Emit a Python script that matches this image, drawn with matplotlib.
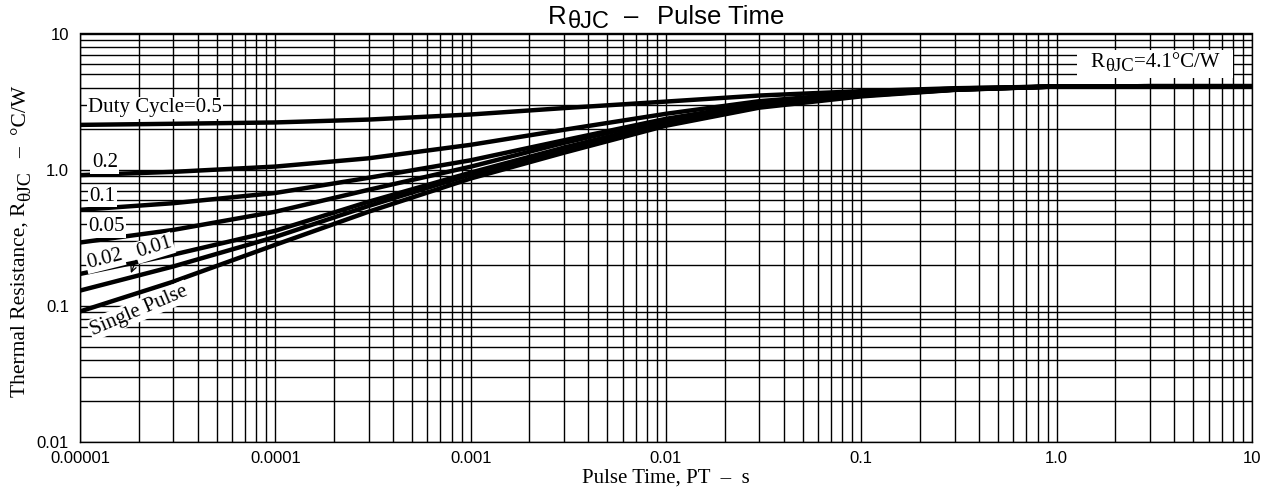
import numpy as np
import matplotlib
matplotlib.use('Agg')
import matplotlib.pyplot as plt
from matplotlib.patches import Rectangle
from matplotlib.ticker import LogLocator, NullFormatter, FixedLocator, FixedFormatter

plt.rcParams["font.family"] = "Liberation Sans"

# Pulse time (s) and thermal resistance (degC/W)
pulse_time = [1e-5, 3e-5, 1e-4, 3e-4, 1e-3, 3e-3, 1e-2, 3e-2, 1e-1, 3e-1, 1, 3, 10]
duty_05 = [2.13, 2.17, 2.22, 2.33, 2.54, 2.83, 3.16, 3.50, 3.77, 3.96, 4.08, 4.1, 4.1]
duty_02 = [0.91, 0.962, 1.052, 1.21, 1.52, 1.96, 2.57, 3.18, 3.66, 3.94, 4.08, 4.1, 4.1]
duty_01 = [0.506, 0.566, 0.673, 0.87, 1.17, 1.64, 2.36, 3.05, 3.60, 3.90, 4.08, 4.1, 4.1]
duty_005 = [0.291, 0.36, 0.49, 0.71, 1.05, 1.57, 2.33, 3.02, 3.55, 3.88, 4.08, 4.1, 4.1]
duty_002 = [0.171, 0.237, 0.355, 0.58, 0.95, 1.45, 2.22, 2.95, 3.52, 3.87, 4.08, 4.1, 4.1]
duty_001 = [0.129, 0.194, 0.32, 0.54, 0.92, 1.38, 2.15, 2.90, 3.49, 3.86, 4.08, 4.1, 4.1]
single_pulse = [0.0906, 0.15, 0.28, 0.49, 0.86, 1.33, 2.10, 2.85, 3.45, 3.85, 4.08, 4.1, 4.1]

xtick_vals = [1e-5, 1e-4, 1e-3, 1e-2, 1e-1, 1, 10]
xtick_labels = ['0.00001', '0.0001', '0.001', '0.01', '0.1', '1.0', '10']
ytick_vals = [0.01, 0.1, 1, 10]
ytick_labels = ['0.01', '0.1', '1.0', '10']

W, H = 1269, 494
fig = plt.figure(figsize=(W/100, H/100), dpi=100)
renderer = fig.canvas.get_renderer()
ax = fig.add_axes([80/W, 1-441.7/H, (1252-80)/W, (441.7-33.5)/H])
ax.set_xscale('log')
ax.set_yscale('log')
ax.set_xlim(1e-5, 10)
ax.set_ylim(0.01, 10)

for series in [duty_05, duty_02, duty_01, duty_005, duty_002, duty_001, single_pulse]:
    ax.plot(pulse_time, series, color='black', lw=3.2, solid_capstyle='butt',
            solid_joinstyle='round', zorder=2)

ax.xaxis.set_major_locator(FixedLocator(xtick_vals))
ax.xaxis.set_major_formatter(FixedFormatter(xtick_labels))
ax.yaxis.set_major_locator(FixedLocator(ytick_vals))
ax.yaxis.set_major_formatter(FixedFormatter(ytick_labels))
for axis in [ax.xaxis, ax.yaxis]:
    axis.set_minor_locator(LogLocator(base=10, subs=np.arange(2, 10), numticks=100))
    axis.set_minor_formatter(NullFormatter())
ax.tick_params(which='both', length=0, labelsize=12)
ax.tick_params(axis='x', pad=7)
ax.tick_params(axis='y', pad=8)
ax.grid(which='both', color='black', linewidth=1.0)
ax.set_axisbelow(True)
for sp in ax.spines.values():
    sp.set_linewidth(1.0)


def rich_text(x, y, pieces, rotation=0, **kw):
    '''Write text pieces one after another along a baseline centred on pixel (x, y)
       (from top-left); each piece is (text, size, drop in px, gap after in px)'''
    widths = []
    for s, size, drop, gap in pieces:
        t = fig.text(0, 0, s, fontsize=size, **kw)
        widths.append(t.get_window_extent(renderer).width)
        t.remove()
    total = sum(widths) + sum(p[3] for p in pieces[:-1])
    pos = -total / 2
    for (s, size, drop, gap), w in zip(pieces, widths):
        if rotation == 0:
            px, py = x + pos, y + drop
        else:
            px, py = x + drop, y - pos
        fig.text(px / W, 1 - py / H, s, fontsize=size, rotation=rotation, rotation_mode='anchor',
                 ha='left', va='baseline', zorder=3, **kw)
        pos += w + gap


serif = 'Liberation Serif'
box = dict(facecolor='white', edgecolor='none', pad=1.0)
ax.text(1.1e-5, 2.84, 'Duty Cycle=0.5', family=serif, fontsize=15, va='center', ha='left', bbox=box, zorder=3)
ax.text(1.15e-5, 1.12, '0.2', family=serif, fontsize=15, va='center', ha='left', bbox=box, zorder=3)
ax.text(1.12e-5, 0.634, '0.1', family=serif, fontsize=15, va='center', ha='left', bbox=box, zorder=3)
ax.text(1.1e-5, 0.379, '0.05', family=serif, fontsize=15, va='center', ha='left', bbox=box, zorder=3)
ax.text(1.34e-5, 0.221, '0.02', family=serif, fontsize=15, va='center', ha='center', rotation=14,
        bbox=box, zorder=3)
ax.text(2.4e-5, 0.266, '0.01', family=serif, fontsize=15, va='center', ha='center', rotation=17,
        bbox=box, zorder=3)
ax.text(2.0e-5, 0.092, 'Single Pulse', family=serif, fontsize=15, va='center', ha='center', rotation=23,
        bbox=box, zorder=3)
ax.annotate('', xy=(1.8e-5, 0.166), xytext=(1.96e-5, 0.225),
            arrowprops=dict(arrowstyle='->', lw=0.9, color='black'), zorder=3)

# R(theta JC) = 4.1 label on a white patch
fig.add_artist(Rectangle((1077/W, 1-78/H), 156/W, 28/H, transform=fig.transFigure,
                         facecolor='white', edgecolor='none', zorder=2))
rich_text(1155, 67, [('R', 15, 0, 0.5), ('θJC', 13.5, 4, 0), ('=4.1°C/W', 15, 0, 0)], family=serif)

# title and axis labels
rich_text(666, 23.5, [('R', 18.5, 0, 1), ('θJC', 17, 5, 15), ('–', 18.5, 0, 18), ('Pulse Time', 18.5, 0, 0)])
fig.text(666/W, 1-478/H, 'Pulse Time, PT  –  s', family=serif, fontsize=15, ha='center', va='center')
rich_text(25, 241, [('Thermal Resistance, R', 15.5, 0, 0.5), ('θJC', 14, 5, 14), ('–', 15.5, 0, 13),
                    ('°C/W', 15.5, 0, 0)], rotation=90, family=serif)

fig.savefig('out.png', dpi=100)
